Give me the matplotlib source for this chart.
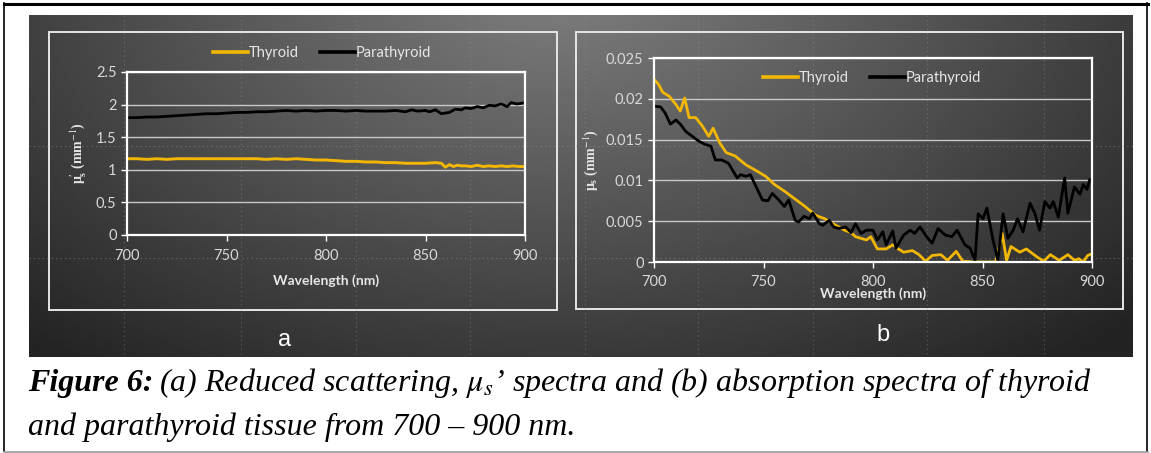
import numpy as np
import matplotlib
matplotlib.use("Agg")
import matplotlib.pyplot as plt
from matplotlib.patches import Rectangle

plt.rcParams['mathtext.fontset'] = 'stix'

# ---- data ----
# panel a: reduced scattering (mm^-1)
wl_a_thy = [700, 705, 710, 715, 720, 725, 730, 735, 740, 745, 750, 755, 760, 765, 770, 775, 780,
            785, 790, 795, 800, 805, 810, 815, 820, 825, 830, 835, 840, 845, 850, 855, 858, 860,
            862, 864, 866, 868, 870, 873, 876, 879, 882, 885, 888, 891, 894, 897, 900]
thy_a = [1.17, 1.17, 1.16, 1.17, 1.16, 1.17, 1.17, 1.17, 1.17, 1.17, 1.17, 1.17, 1.17, 1.17, 1.16,
         1.17, 1.16, 1.17, 1.16, 1.15, 1.15, 1.14, 1.13, 1.13, 1.12, 1.12, 1.11, 1.11, 1.10, 1.10,
         1.10, 1.11, 1.10, 1.04, 1.08, 1.05, 1.07, 1.06, 1.06, 1.05, 1.07, 1.05, 1.06, 1.05, 1.06,
         1.05, 1.06, 1.05, 1.05]
wl_a_para = [700, 705, 710, 715, 720, 725, 730, 735, 740, 745, 750, 755, 760, 765, 770, 775, 780,
             785, 790, 795, 800, 805, 810, 815, 820, 825, 830, 835, 840, 843, 846, 850, 852, 855,
             858, 862, 865, 868, 870, 873, 876, 879, 882, 885, 888, 891, 893, 896, 900]
para_a = [1.80, 1.80, 1.81, 1.81, 1.82, 1.83, 1.84, 1.85, 1.86, 1.86, 1.87, 1.88, 1.88, 1.89, 1.89,
          1.90, 1.91, 1.90, 1.91, 1.90, 1.91, 1.91, 1.90, 1.91, 1.90, 1.90, 1.90, 1.91, 1.89, 1.92,
          1.90, 1.91, 1.89, 1.92, 1.86, 1.88, 1.93, 1.92, 1.95, 1.94, 1.97, 1.95, 1.99, 1.98, 2.01,
          1.97, 2.03, 2.01, 2.03]

# panel b: absorption (mm^-1)
wl_b_thy = [700, 702, 704, 707, 710, 712, 714, 716, 719, 722, 725, 727, 730, 733, 737, 742, 746,
            751, 755, 760, 765, 769, 774, 778, 783, 787, 790, 792, 797, 799, 802, 806, 809, 811,
            814, 818, 821, 824, 827, 831, 834, 838, 841, 846, 856, 859, 861, 863, 867, 870, 875,
            878, 881, 885, 889, 892, 894, 896, 898, 900]
thy_b = [0.0224, 0.0218, 0.0208, 0.0203, 0.0193, 0.0185, 0.0201, 0.0177, 0.0177, 0.0167, 0.0154,
         0.0164, 0.0146, 0.0134, 0.0130, 0.0119, 0.0113, 0.0105, 0.0095, 0.0086, 0.0076, 0.0068,
         0.0057, 0.0053, 0.0045, 0.0039, 0.0036, 0.0031, 0.0027, 0.0031, 0.0016, 0.0016, 0.0021,
         0.0017, 0.0012, 0.0014, 0.0009, 0.0001, 0.0008, 0.0009, 0.0002, 0.0013, 0.0001, 0.0,
         0.0, 0.0035, 0.0002, 0.0019, 0.0012, 0.0016, 0.0006, 0.0001, 0.0009, 0.0002, 0.0009,
         0.0002, 0.0004, 0.0, 0.0008, 0.0010]
wl_b_para = [700, 703, 705, 707.5, 710, 712, 714.5, 717.5, 720.5, 723.5, 726, 728, 731, 734, 738,
             739.5, 742, 744, 746.5, 749.5, 752, 754, 757, 759.5, 761.5, 764.5, 766, 768.5, 771,
             772.5, 775.5, 777, 780, 782, 784.5, 787.5, 790, 792, 794.5, 797, 800, 802, 804.5,
             806, 809, 810.5, 814, 817, 819, 821.5, 824.5, 827, 829.7, 833, 836, 838.4, 842,
             844.3, 846.6, 848, 850.2, 852, 854.8, 857, 859.4, 861.6, 864, 866, 868.5, 871.7,
             874, 876, 878.5, 880.8, 882.3, 884.6, 887.5, 889, 892, 894.5, 896, 897.7, 899]
para_b = [0.0191, 0.0190, 0.0183, 0.0169, 0.0174, 0.0169, 0.0160, 0.0154, 0.0148, 0.0144, 0.0142,
          0.0125, 0.0125, 0.0121, 0.0103, 0.0107, 0.0105, 0.0107, 0.0093, 0.0076, 0.0075, 0.0084,
          0.0076, 0.0068, 0.0076, 0.0051, 0.0049, 0.0056, 0.0053, 0.0060, 0.0047, 0.0045, 0.0051,
          0.0043, 0.0041, 0.0043, 0.0036, 0.0047, 0.0035, 0.0039, 0.0039, 0.0027, 0.0037, 0.0021,
          0.0038, 0.0017, 0.0033, 0.0039, 0.0035, 0.0043, 0.0031, 0.0023, 0.0041, 0.0033, 0.0031,
          0.0039, 0.0021, 0.0017, 0.0002, 0.0059, 0.0053, 0.0066, 0.0027, 0.0002, 0.0059, 0.0029,
          0.0039, 0.0053, 0.0037, 0.0072, 0.0059, 0.0039, 0.0074, 0.0066, 0.0074, 0.0055, 0.0103,
          0.0060, 0.0092, 0.0083, 0.0095, 0.0089, 0.0101]

xticks = [700, 750, 800, 850, 900]
yticks_a = [0, 0.5, 1, 1.5, 2, 2.5]
yticks_b = [0, 0.005, 0.01, 0.015, 0.02, 0.025]
ytick_labels_a = ['0', '0.5', '1', '1.5', '2', '2.5']
ytick_labels_b = ['0', '0.005', '0.01', '0.015', '0.02', '0.025']

YEL = '#f2b705'
W, H = 1151, 453
fig = plt.figure(figsize=(W / 100, H / 100), dpi=100)
fig.patch.set_facecolor('white')

# background layer in pixel coordinates
bg = fig.add_axes([0, 0, 1, 1])
bg.set_xlim(0, W)
bg.set_ylim(H, 0)
bg.axis('off')

# dark photo backdrop with a soft light spot near the top middle
xx, yy = np.meshgrid(np.linspace(29, 1133, 400), np.linspace(15, 357, 150))
d = np.sqrt(((xx - 560) / 600) ** 2 + ((yy + 20) / 380) ** 2)
shade = 0.50 - 0.36 * np.clip(d, 0, 1.3) / 1.3
bg.imshow(shade, cmap='gray', vmin=0, vmax=1, extent=(29, 1133, 357, 15),
          aspect='auto', interpolation='bilinear')

# faint dotted artefacts from the projected photo
for xv in [124, 241, 356, 470, 585, 698, 813, 927, 1044]:
    bg.plot([xv, xv], [15, 357], color='#9a9a9a', lw=0.8, ls=(0, (1, 3)), alpha=0.45)
for yv in [146, 258]:
    bg.plot([29, 1133], [yv, yv], color='#9a9a9a', lw=0.8, ls=(0, (1, 3)), alpha=0.55)

# panel frames
bg.add_patch(Rectangle((49, 32), 508, 278, fill=False, ec='#e6e6e6', lw=1.4))
bg.add_patch(Rectangle((576, 32), 547, 277, fill=False, ec='#e6e6e6', lw=1.4))
bg.text(285, 340, 'a', color='white', fontsize=17, ha='center', va='center', family='Liberation Sans')
bg.text(883, 335, 'b', color='white', fontsize=17, ha='center', va='center', family='Liberation Sans')

# outer page frame
bg.plot([4, 1148], [3.5, 3.5], color='black', lw=2.2)
bg.plot([4.5, 4.5], [3, 451], color='black', lw=1.2)
bg.plot([1147.5, 1147.5], [3, 451], color='black', lw=1.2)
bg.plot([4, 1148], [451.5, 451.5], color='#999999', lw=1.2)

# caption
rend = fig.canvas.get_renderer()
t1 = bg.text(28, 383, 'Figure 6:', fontsize=23, family='Liberation Serif',
             style='italic', weight='bold', va='center', ha='left')
bb = t1.get_window_extent(renderer=rend)
x_end = bg.transData.inverted().transform((bb.x1, bb.y0))[0]
bg.text(x_end + 6, 383, r"(a) Reduced scattering, $\mu_s$’ spectra and (b) absorption spectra of thyroid",
        fontsize=23, family='Liberation Serif', style='italic', va='center', ha='left')
bg.text(28, 427, 'and parathyroid tissue from 700 – 900 nm.', fontsize=23,
        family='Liberation Serif', style='italic', va='center', ha='left')


def style_axes(ax, yticks, ylabels, ylim):
    ax.set_facecolor('none')
    ax.set_xlim(700, 900)
    ax.set_ylim(*ylim)
    ax.set_xticks(xticks)
    ax.set_yticks(yticks)
    ax.set_yticklabels(ylabels)
    for s in ax.spines.values():
        s.set_color('white')
        s.set_linewidth(1.6)
    ax.tick_params(colors='white', labelcolor='#d8d8d8', labelsize=10.5, length=4, width=1)
    for lab in ax.get_xticklabels() + ax.get_yticklabels():
        lab.set_family('Lato')
    ax.grid(axis='y', color='#c8c8c8', lw=1)
    ax.set_axisbelow(True)


# panel a
ax1 = fig.add_axes([127 / W, 1 - 235 / H, 398 / W, 163 / H])
style_axes(ax1, yticks_a, ytick_labels_a, (0, 2.5))
ax1.plot(wl_a_thy, thy_a, color=YEL, lw=2.1, label='Thyroid')
ax1.plot(wl_a_para, para_a, color='black', lw=2.0, label='Parathyroid')
ax1.tick_params(axis='x', pad=6)
ax1.set_xlabel('Wavelength (nm)', color='#e6e6e6', fontsize=10, weight='bold', family='Lato', labelpad=8)
ax1.set_ylabel(r"$\mathregular{\mu_s^{\prime}}$ (mm$^{-1}$)", color='#e6e6e6', fontsize=10,
               weight='bold', family='Liberation Serif', labelpad=6)
leg1 = ax1.legend(loc='center', bbox_to_anchor=(322 / W, 1 - 53 / H), bbox_transform=fig.transFigure,
                  ncol=2, frameon=False, handlelength=2.4, handletextpad=0.1, columnspacing=1.4,
                  prop={'family': 'Lato', 'size': 10.5})

# panel b
ax2 = fig.add_axes([654 / W, 1 - 262 / H, 438 / W, 204 / H])
style_axes(ax2, yticks_b, ytick_labels_b, (0, 0.025))
ax2.plot(wl_b_thy, thy_b, color=YEL, lw=2.0, label='Thyroid')
ax2.plot(wl_b_para, para_b, color='black', lw=2.0, label='Parathyroid')
ax2.tick_params(axis='x', pad=5)
ax2.set_xlabel('Wavelength (nm)', color='#e6e6e6', fontsize=10, weight='bold', family='Lato', labelpad=-1)
ax2.set_ylabel(r"$\mathregular{\mu_s}$ (mm$^{-1}$)", color='#e6e6e6', fontsize=10,
               weight='bold', family='Liberation Serif', labelpad=4)
leg2 = ax2.legend(loc='center', bbox_to_anchor=(872 / W, 1 - 78 / H), bbox_transform=fig.transFigure,
                  ncol=2, frameon=False, handlelength=2.4, handletextpad=0.1, columnspacing=1.4,
                  prop={'family': 'Lato', 'size': 10.5})
for leg in (leg1, leg2):
    for txt in leg.get_texts():
        txt.set_color('#e6e6e6')
    for ln in leg.get_lines():
        ln.set_linewidth(2.6)

fig.savefig('out.png', dpi=100, facecolor='white')
